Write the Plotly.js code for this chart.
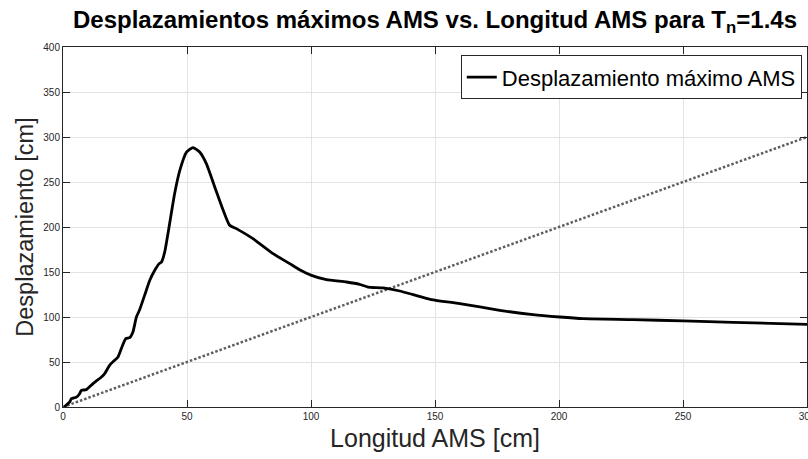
<!DOCTYPE html>
<html>
<head>
<meta charset="utf-8">
<script src="https://cdn.plot.ly/plotly-3.0.1.min.js"></script>
<style>html,body{margin:0;padding:0;background:#fff;}#chart{width:808px;height:459px;}</style>
</head>
<body>
<div id="chart"></div>
<script>
// Longitud AMS [cm]
const longitud = [0.5, 2.7, 3.4, 5.4, 6.7, 7.4, 9.4, 12.1, 15.5, 16.8, 18.8, 20.8, 22.2, 23.5, 25.3, 26.9, 28.2, 29.6, 30.9, 32.9, 35, 37, 38.7, 39.7, 41, 43, 45, 47.1, 49.8, 52.4, 55.1, 57.8, 61.9, 67.2, 69.9, 76.6, 84.7, 91.4, 95.4, 100.2, 106.2, 114.3, 119.6, 123, 129, 135.8, 141.1, 148.5, 160, 176.1, 189.5, 200.3, 209.7, 229.8, 250, 270.2, 300];
// Desplazamiento máximo AMS [cm]
const desplazamiento = [0, 5.6, 9.3, 11, 14.8, 18.5, 19.3, 26, 33.3, 37, 46.3, 51.9, 55.6, 64.9, 76, 77, 83.3, 100, 108, 124, 140.8, 151.9, 159, 161, 172, 203.8, 237, 263, 283.3, 288.2, 283.3, 270.4, 239, 201.9, 198.2, 187, 170.4, 159.3, 152.6, 146.3, 141.5, 138.9, 136.3, 133.3, 132.3, 128.9, 124.9, 119.3, 114.9, 107.4, 102.6, 100, 98.2, 97.1, 95.6, 94.1, 91.9];
// Reference line y = x
const refX = [0, 300];
const refY = [0, 300];
const xTicks = [0, 50, 100, 150, 200, 250, 300];
const yTicks = [0, 50, 100, 150, 200, 250, 300, 350, 400];

const FONT = '"Liberation Sans", Arial, Helvetica, sans-serif';
const AX = '#262626';

const traces = [
  {x: refX, y: refY, mode: 'lines', showlegend: false,
   line: {color: '#5e5e5e', width: 2.5, dash: '2.5px,2px'}},
  {x: longitud, y: desplazamiento, mode: 'lines', name: 'Desplazamiento máximo AMS',
   line: {color: '#000000', width: 2.8, shape: 'spline', smoothing: 0.5}}
];

const axisCommon = {
  showline: true, linecolor: AX, linewidth: 1, mirror: 'ticks',
  ticks: 'inside', ticklen: 7, tickcolor: AX, tickwidth: 1,
  showgrid: true, gridcolor: '#e3e3e3', gridwidth: 1,
  zeroline: false, tickfont: {family: FONT, size: 10, color: AX},
  ticklabeloverflow: 'allow', automargin: false
};

const layout = {
  width: 808, height: 459,
  margin: {l: 63, r: 1, t: 47, b: 52},
  paper_bgcolor: '#ffffff', plot_bgcolor: '#ffffff',
  font: {family: FONT, color: '#000'},
  title: {text: '<b>Desplazamientos máximos AMS vs. Longitud AMS para T<sub>n</sub>=1.4s</b>',
    font: {family: FONT, size: 24, color: '#000'},
    x: 0.5, xref: 'paper', y: 1 - 11/459, yref: 'container', yanchor: 'top'},
  xaxis: Object.assign({}, axisCommon, {
    range: [0, 300], tickvals: xTicks, ticktext: xTicks.map(String),
    title: {text: 'Longitud AMS [cm]', font: {family: FONT, size: 25, color: AX}, standoff: 8}
  }),
  yaxis: Object.assign({}, axisCommon, {
    range: [0, 400], tickvals: yTicks, ticktext: yTicks.map(String),
    title: {text: 'Desplazamiento [cm]', font: {family: FONT, size: 23.5, color: AX}, standoff: 3}
  }),
  legend: {x: 0.993, y: 0.977, xanchor: 'right', yanchor: 'top',
    bgcolor: '#ffffff', bordercolor: AX, borderwidth: 1,
    font: {family: FONT, size: 22, color: '#000'}, itemwidth: 30},
  showlegend: true
};

Plotly.newPlot('chart', traces, layout, {displayModeBar: false, staticPlot: true});
</script>
</body>
</html>
